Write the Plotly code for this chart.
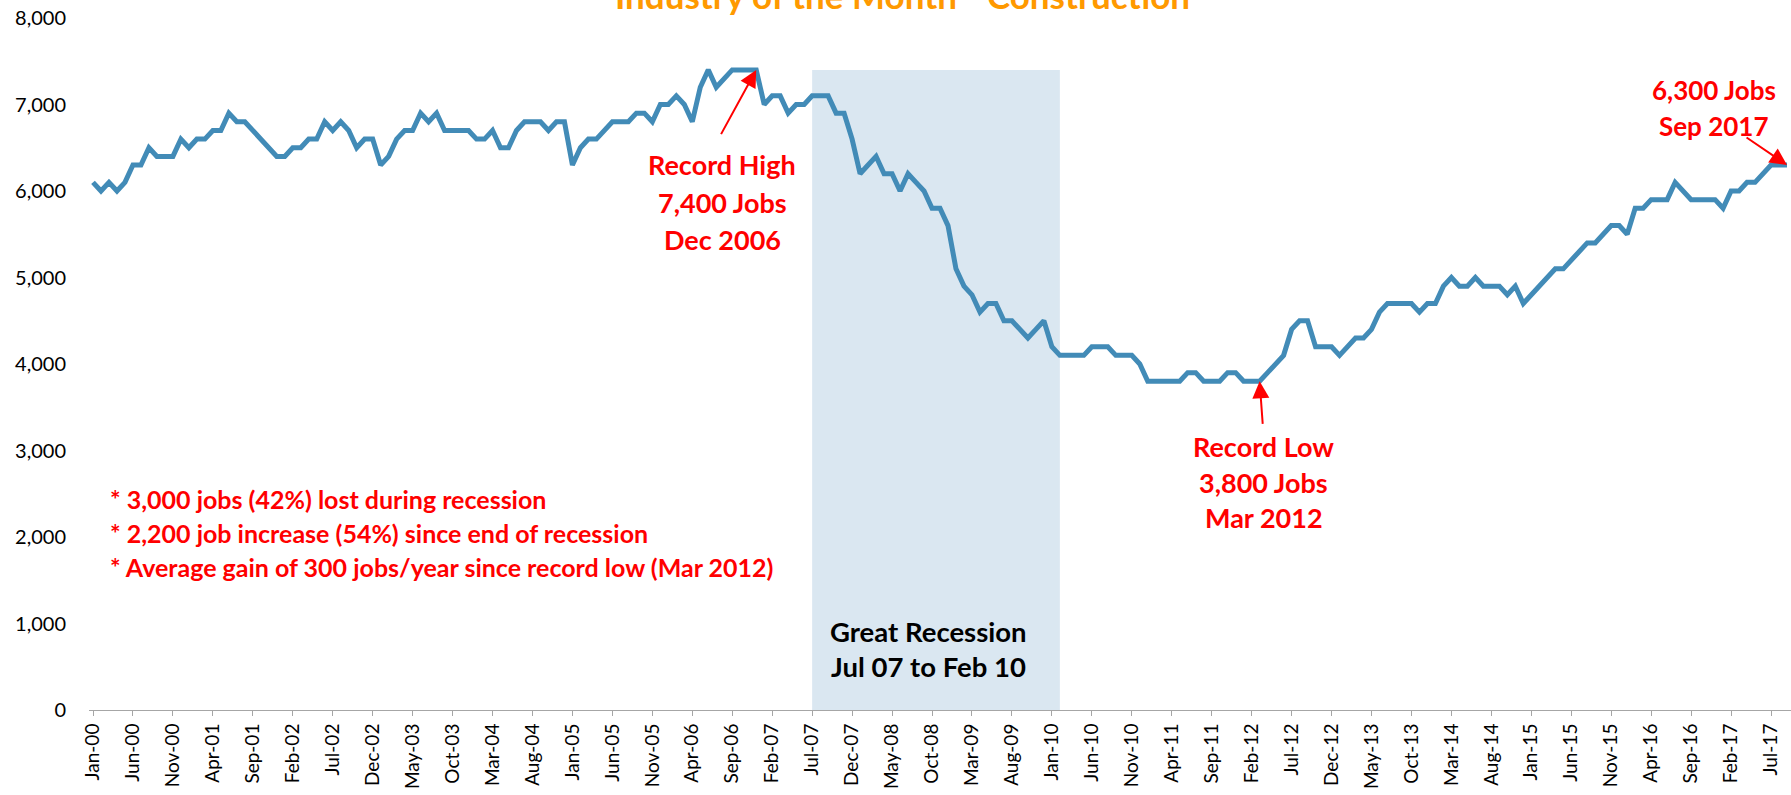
import plotly.graph_objects as go

# ---------------- data ----------------
month_names = ["Jan", "Feb", "Mar", "Apr", "May", "Jun", "Jul", "Aug", "Sep", "Oct", "Nov", "Dec"]
categories = [f"{month_names[i % 12]}-{(i // 12):02d}" for i in range(213)]  # Jan-00 .. Sep-17

jobs = [
    6100, 6000, 6100, 6000, 6100, 6300, 6300, 6500, 6400, 6400, 6400, 6600,  # 2000
    6500, 6600, 6600, 6700, 6700, 6900, 6800, 6800, 6700, 6600, 6500, 6400,  # 2001
    6400, 6500, 6500, 6600, 6600, 6800, 6700, 6800, 6700, 6500, 6600, 6600,  # 2002
    6300, 6400, 6600, 6700, 6700, 6900, 6800, 6900, 6700, 6700, 6700, 6700,  # 2003
    6600, 6600, 6700, 6500, 6500, 6700, 6800, 6800, 6800, 6700, 6800, 6800,  # 2004
    6300, 6500, 6600, 6600, 6700, 6800, 6800, 6800, 6900, 6900, 6800, 7000,  # 2005
    7000, 7100, 7000, 6800, 7200, 7400, 7200, 7300, 7400, 7400, 7400, 7400,  # 2006
    7000, 7100, 7100, 6900, 7000, 7000, 7100, 7100, 7100, 6900, 6900, 6600,  # 2007
    6200, 6300, 6400, 6200, 6200, 6000, 6200, 6100, 6000, 5800, 5800, 5600,  # 2008
    5100, 4900, 4800, 4600, 4700, 4700, 4500, 4500, 4400, 4300, 4400, 4500,  # 2009
    4200, 4100, 4100, 4100, 4100, 4200, 4200, 4200, 4100, 4100, 4100, 4000,  # 2010
    3800, 3800, 3800, 3800, 3800, 3900, 3900, 3800, 3800, 3800, 3900, 3900,  # 2011
    3800, 3800, 3800, 3900, 4000, 4100, 4400, 4500, 4500, 4200, 4200, 4200,  # 2012
    4100, 4200, 4300, 4300, 4400, 4600, 4700, 4700, 4700, 4700, 4600, 4700,  # 2013
    4700, 4900, 5000, 4900, 4900, 5000, 4900, 4900, 4900, 4800, 4900, 4700,  # 2014
    4800, 4900, 5000, 5100, 5100, 5200, 5300, 5400, 5400, 5500, 5600, 5600,  # 2015
    5500, 5800, 5800, 5900, 5900, 5900, 6100, 6000, 5900, 5900, 5900, 5900,  # 2016
    5800, 6000, 6000, 6100, 6100, 6200, 6300, 6300, 6300,                    # 2017 (Jan-Sep)
]

tick_step = 5
y_ticks = [0, 1000, 2000, 3000, 4000, 5000, 6000, 7000, 8000]
y_tick_labels = ["0", "1,000", "2,000", "3,000", "4,000", "5,000", "6,000", "7,000", "8,000"]

recession_start = "Jul-07"
recession_end = "Feb-10"
recession_top = 7400

record_high = ("Dec-06", 7400)
record_low = ("Mar-12", 3800)
latest = ("Sep-17", 6300)

title_text = "Industry of the Month - Construction"
bullets = [
    "* 3,000 jobs (42%) lost during recession",
    "* 2,200 job increase (54%) since end of recession",
    "* Average gain of 300 jobs/year since record low (Mar 2012)",
]

# ---------------- figure ----------------
x_idx = list(range(len(jobs)))
idx = {c: i for i, c in enumerate(categories)}

LINE = "#428BB7"
RED = "#FF0000"
FONT = "Lato"

fig = go.Figure()

fig.add_shape(type="rect", xref="x", yref="y",
              x0=idx[recession_start], x1=idx[recession_end],
              y0=0, y1=recession_top,
              fillcolor="#DAE7F1", line=dict(width=0), layer="below")

fig.add_trace(go.Scatter(x=x_idx, y=jobs, mode="lines",
                         line=dict(color=LINE, width=5),
                         hoverinfo="skip", showlegend=False))

tickvals = x_idx[::tick_step]
ticktext = categories[::tick_step]

fig.update_layout(
    width=1791, height=795,
    margin=dict(l=89, r=0, t=18, b=85, autoexpand=False),
    paper_bgcolor="white", plot_bgcolor="white",
    font=dict(family=FONT, color="#000000"),
    showlegend=False,
    xaxis=dict(range=[-0.5, len(jobs) - 0.5], tickvals=tickvals, ticktext=ticktext,
               tickangle=-90, tickfont=dict(size=19, family=FONT, color="#000000"),
               showgrid=False, zeroline=False, showline=True, linecolor="#A6A6A6",
               linewidth=1, ticks="outside", ticklen=5, tickcolor="#A6A6A6",
               automargin=False, fixedrange=True),
    yaxis=dict(range=[0, 8000], tickvals=y_ticks, ticktext=y_tick_labels,
               tickfont=dict(size=20, family=FONT, color="#000000"),
               showgrid=False, zeroline=False, showline=False, ticks="",
               ticklabelstandoff=22, automargin=False, fixedrange=True),
)


def add_lines(lines, x, ys, size, color=RED, xanchor="center", align="center"):
    for t, yv in zip(lines, ys):
        fig.add_annotation(x=x, y=yv, xref="x", yref="y", text=f"<b>{t}</b>",
                           showarrow=False, xanchor=xanchor, yanchor="middle", align=align,
                           font=dict(family=FONT, size=size, color=color))


def add_arrow(x, y, ax, ay):
    fig.add_annotation(x=x, y=y, xref="x", yref="y", ax=ax, ay=ay, axref="x", ayref="y",
                       text="", showarrow=True, arrowhead=2, arrowsize=1.7, arrowwidth=2,
                       arrowcolor=RED, standoff=0)


# Record high
hx, hy = idx[record_high[0]], record_high[1]
add_lines(["Record High", "7,400 Jobs", "Dec 2006"], hx - 4.25, [6306, 5870, 5440], 27)
add_arrow(hx, hy, hx - 4.5, 6640)

# Record low
lx, ly = idx[record_low[0]], record_low[1]
add_lines(["Record Low", "3,800 Jobs", "Mar 2012"], lx + 0.5, [3050, 2627, 2225], 27)
add_arrow(lx, ly, lx + 0.4, 3290)

# Latest
sx, sy = idx[latest[0]], latest[1]
add_lines(["6,300 Jobs", "Sep 2017"], sx - 9.1, [7173, 6746], 26)
add_arrow(sx, sy, sx - 5.25, 6630)

# Bullets
add_lines(bullets, 1.9, [2445, 2046, 1651], 25, xanchor="left", align="left")

# Recession label
add_lines(["Great Recession", "Jul 07 to Feb 10"], 104.5, [912, 503], 27.5, color="#000000")

# Title (cut off at the top like the reference)
fig.add_annotation(x=101.3, y=1.0, xref="x", yref="paper", yshift=0,
                   text=f"<b>{title_text}</b>", showarrow=False,
                   xanchor="center", yanchor="bottom",
                   font=dict(family=FONT, size=35, color="#FF9900"))

fig.write_html("out.html", config={"displayModeBar": False},
               post_script="document.body.style.margin='0';document.body.style.overflow='hidden';")
